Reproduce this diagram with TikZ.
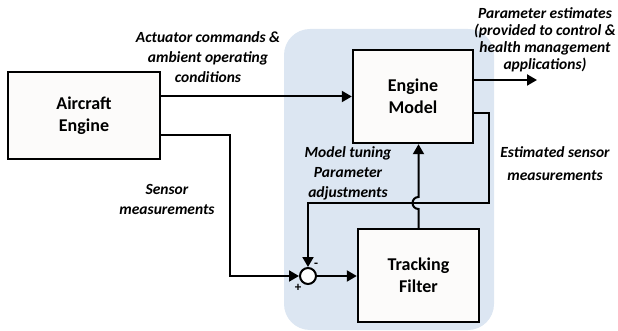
\documentclass[tikz,border=0pt]{standalone}
\usepackage{fontspec}
\setmainfont{Carlito}
\usetikzlibrary{arrows.meta,calc}
\definecolor{regionblue}{HTML}{DCE6F2}
\definecolor{boxfill}{HTML}{FCFBFA}
\begin{document}
\begin{tikzpicture}[x=1pt,y=-1pt,
  blockbox/.style={draw=black,line width=2.4pt,fill=boxfill,inner sep=0pt,align=center,
    font=\bfseries\fontsize{18}{22}\selectfont},
  lbl/.style={align=center,inner sep=0pt,font=\bfseries\itshape\fontsize{15.5}{20}\selectfont},
  conn/.style={line width=2pt,draw=black},
  arr/.style={conn,-{Triangle[length=10pt,width=11pt]}},
  sign/.style={inner sep=0pt,font=\bfseries\fontsize{13}{13}\selectfont}]
\useasboundingbox (0,0) rectangle (618,331);
% blue region
\fill[regionblue,rounded corners=26pt] (284,29) rectangle (494,330);
% blocks
\node[blockbox,minimum width=152pt,minimum height=87pt] (ae) at (84,115.5) {Aircraft\\Engine};
\node[blockbox,minimum width=120pt,minimum height=93pt] (em) at (413,96.5) {Engine\\Model};
\node[blockbox,minimum width=121pt,minimum height=93pt] (tf) at (418.5,275.5) {Tracking\\Filter};
\node[draw=black,line width=2pt,fill=white,circle,minimum size=16pt,inner sep=0pt] (sum) at (308,276) {};
% helper coordinates
\coordinate (out) at (537,80);
\coordinate (c1) at (230,135);
\coordinate (c2) at (489,113);
\coordinate (c3) at (489,203);
\coordinate (hop) at (418.5,203);
% connectors
\draw[arr] (ae.east |- em.west) -- (em.west);
\draw[arr] (em.east |- out) -- (out);
\draw[arr] (ae.east |- c1) -- (c1) |- (sum.west);
\draw[arr] (sum.east) -- (tf.west |- sum.east);
\draw[arr] (em.east |- c2) -- (c2) -- (c3) -- (sum.north |- c3) -- (sum.north);
\draw[arr] (tf.north) -- ($(hop)+(0,6)$) arc[start angle=270,end angle=90,radius=6pt] -- (em.south -| tf.north);
% signs
\node[sign] (minus) at (316,265) {-};
\node[sign] (plus) at (298,288) {+};
% labels
\node[lbl] (act) at (208,57) {Actuator commands \&\\ambient operating\\conditions};
\node[lbl,font=\bfseries\itshape\fontsize{15.5}{17}\selectfont] (pe) at (545,40) {Parameter estimates\\(provided to control \&\\health management\\applications)};
\node[lbl,font=\bfseries\itshape\fontsize{15.5}{23}\selectfont] (esm) at (555,164) {Estimated sensor\\measurements};
\node[lbl] (mtp) at (348,173) {Model tuning\\Parameter\\adjustments};
\node[lbl] (sm) at (167,199) {Sensor\\measurements};
\end{tikzpicture}
\end{document}
